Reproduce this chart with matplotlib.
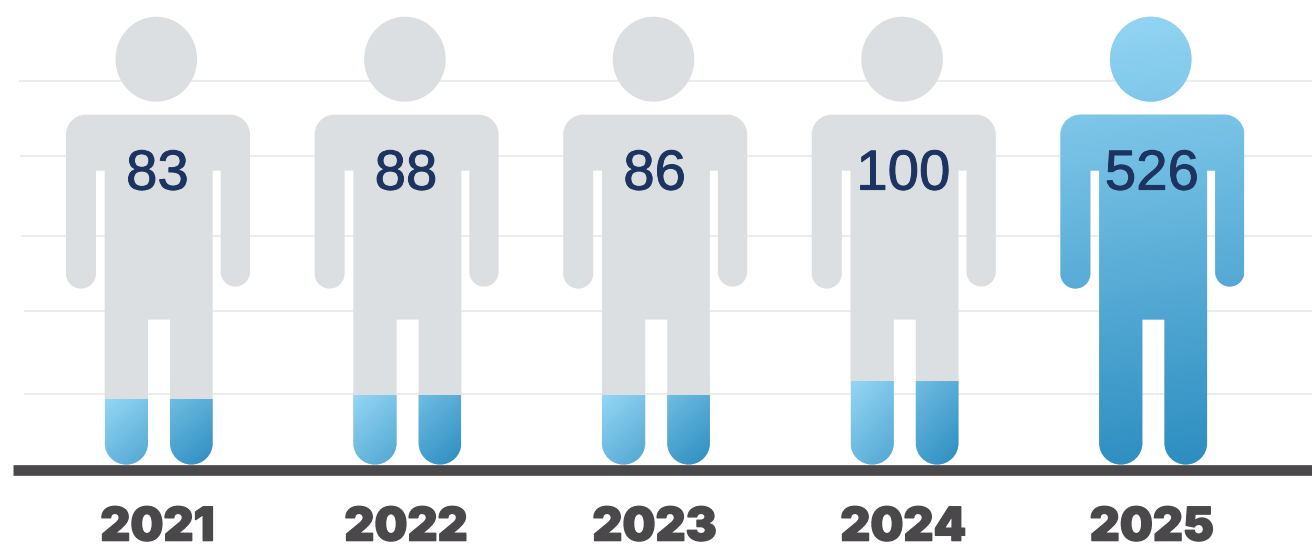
import numpy as np
import matplotlib
matplotlib.use("Agg")
import matplotlib.pyplot as plt
import matplotlib.patheffects as pe
from matplotlib.colors import LinearSegmentedColormap
from matplotlib.patches import PathPatch
from matplotlib.path import Path
from matplotlib.transforms import Affine2D

# ---- data ----
years = ["2021", "2022", "2023", "2024", "2025"]
value_labels = ["83", "88", "86", "100", "526"]
fill_levels = [77.3, 82.0, 82.0, 98.4, 526.0]   # drawn height of the blue fill
grid_levels = [449, 362, 268, 180.5, 83]
grid_starts = [-0.56, -0.555, -0.55, -0.54, -0.54]  # category units

# ---- styles ----
GREY = "#DCDFE2"
GRID = "#ECECEC"
BASE = "#4A484B"
NAVY = "#1D3461"
cmap = LinearSegmentedColormap.from_list("blue", ["#95D6F4", "#2C8DC0"])

W, H = 1312, 544
PX_X = 248.6          # pixels per category
PX_Y = 449 / 526      # pixels per value unit
X0 = 158.0            # pixel of the first category
Y0 = 464.6            # pixel of value 0

fig = plt.figure(figsize=(W / 100, H / 100), dpi=100)
ax = fig.add_axes([0, 0, 1, 1])
ax.axis("off")
xlim = (-X0 / PX_X, (W - X0) / PX_X)
ylim = ((Y0 - H) / PX_Y, Y0 / PX_Y)


def rounded(verts):
    """Closed path from (x, y, corner radius) vertices."""
    k = 0.5523
    n = len(verts)
    pts, codes = [], []
    for i, (x, y, r) in enumerate(verts):
        p = np.array([x, y], float)
        a = np.array(verts[i - 1][:2], float)
        b = np.array(verts[(i + 1) % n][:2], float)
        ua = (a - p) / np.linalg.norm(a - p)
        ub = (b - p) / np.linalg.norm(b - p)
        s = p + ua * r
        e = p + ub * r
        pts.append(s)
        codes.append(Path.MOVETO if i == 0 else Path.LINETO)
        if r > 0:
            pts += [s - ua * r * k, e - ub * r * k, e]
            codes += [Path.CURVE4] * 3
    pts.append(pts[0])
    codes.append(Path.CLOSEPOLY)
    return Path(pts, codes)


# person glyph in local pixel units: x from slot centre, y up from the baseline
body = rounded([
    (-92, 350, 20), (92, 350, 20),
    (92, 178, 14.7), (62.7, 178, 14.7), (62.7, 294, 0), (54.7, 294, 0),
    (54.7, 0, 21.4), (12, 0, 21.4), (12, 145, 0), (-10, 145, 0),
    (-10, 0, 21.6), (-53.3, 0, 21.6), (-53.3, 294, 0), (-62, 294, 0),
    (-62, 176, 15), (-92, 176, 15),
])
head = Path.unit_circle().transformed(
    Affine2D().scale(40.8, 42.5).translate(-1.7, 405.4))
person = Path.make_compound_path(body, head)

# grid lines and baseline
ax.hlines(grid_levels, grid_starts, xlim[1], color=GRID, lw=1.5, zorder=1)
ax.hlines(-5.3 / PX_Y, (13 - X0) / PX_X, xlim[1], color=BASE, lw=7.7,
          zorder=2, capstyle="butt")

for i, (year, label, level) in enumerate(zip(years, value_labels, fill_levels)):
    local = Affine2D().scale(1 / PX_X, 1 / PX_Y).translate(i, 0) + ax.transData
    ax.add_patch(PathPatch(person, fc=GREY, ec="none", transform=local, zorder=3))

    full = level >= 526
    u, v = np.meshgrid(np.linspace(0, 1, 200), np.linspace(0, 1, 200))
    if full:
        shade = 0.95 * v + 0.05 * u
        left, right = -92, 92
    else:
        shade = 0.42 * v + 0.58 * u
        left, right = -53.3, 54.7
    im = ax.imshow(shade, cmap=cmap, vmin=0, vmax=1, aspect="auto", origin="upper",
                   extent=(i + left / PX_X, i + right / PX_X, 0, level),
                   interpolation="bilinear", zorder=4)
    im.set_clip_path(person, transform=local)

    ax.text(i - 0.002, 275 / PX_Y, label, ha="center", va="baseline",
            fontsize=40.6, family="Liberation Sans", color=NAVY, zorder=6,
            path_effects=[pe.withStroke(linewidth=0.7, foreground=NAVY)])
    ax.text(i - 0.002, -76 / PX_Y, year, ha="center", va="baseline",
            fontsize=33.5, family="Inter", fontweight=900, color=BASE,
            path_effects=[pe.withStroke(linewidth=1.0, foreground=BASE)], zorder=6)

ax.set_xlim(*xlim)
ax.set_ylim(*ylim)
fig.savefig("out.png", dpi=100, facecolor="white")
